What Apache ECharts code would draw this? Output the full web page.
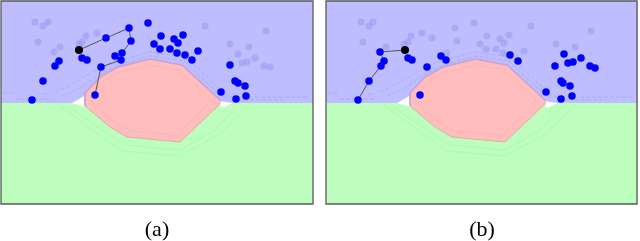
<!DOCTYPE html>
<html><head><meta charset="utf-8">
<script src="https://cdn.jsdelivr.net/npm/echarts@6/dist/echarts.min.js"></script>
<style>html,body{margin:0;padding:0;background:#fff}#c{width:640px;height:241px}</style>
</head><body><div id="c"></div>
<script>
// Panel-local coordinates (x right, y down), shared by both panels
const blueRegion = [[1,1],[313,1],[313,103],[1,103]];
const greenRegion = [[1,103],[313,103],[313,204],[1,204]];
const gapLeft = [[72,103],[86,95],[86,107]];
const gapRight = [[218,101],[233,103],[222,108]];
const redRegion = [[85,106],[85,93],[100,77],[118,67],[150,59],[182,65],[220,100],[220,104],[180,142],[127,137],[110,127]];
const redTopEdge = [[85,106],[85,93],[100,77],[118,67],[150,59],[182,65],[220,100]];
const blueContours = [
  [[55,92],[72,84],[92,72],[112,62],[150,52],[185,57],[205,75],[225,95],[242,100]],
  [[62,96],[80,88],[97,76],[116,66],[150,56],[184,61],[212,88],[228,99]],
  [[3,93],[15,93]], [[15,99],[52,99]], [[43,94],[50,94]],
  [[255,97],[307,97]], [[250,100],[282,100]]
];
const greenContours = [
  [[70,108],[95,125],[125,145],[180,150],[215,130],[235,108]],
  [[60,106],[90,128],[122,151],[180,156],[220,134],[248,107]]
];
const redContours = [
  [[92,102],[92,94],[104,81],[121,72],[151,65],[179,70],[211,100],[178,135],[130,131],[114,122],[92,102]]
];

// Panel (a)
const aFaded = [[35,22],[43,26],[48,22],[38,42],[54,52],[60,47],[79,44],[82,42],[86,36],[97,33],[205,26],[266,31],[230,44],[249,47],[238,54],[242,63],[247,62],[255,58],[264,66],[270,67]];
const aSolid = [[129,28],[148,23],[106,38],[131,41],[154,44],[160,49],[122,53],[115,56],[121,60],[82,58],[87,60],[59,61],[55,66],[101,67],[43,81],[95,95],[32,100],[161,36],[183,35],[174,39],[178,43],[170,49],[177,53],[185,55],[198,51],[192,60],[230,65],[235,81],[238,83],[245,86],[221,92],[246,96],[236,99]];
const aBlack = [[79,50]];
const aPath = [[79,50],[106,38],[129,28],[131,41],[122,53],[121,60],[101,67],[95,95]];

// Panel (b)
const bFaded = [[36,22],[44,26],[48,22],[38,42],[61,47],[79,44],[83,42],[86,36],[97,33],[107,38],[130,28],[132,41],[149,23],[122,53],[206,26],[266,31],[162,36],[184,35],[175,39],[179,43],[155,44],[161,49],[171,49],[178,53],[199,51],[231,44],[250,47]];
const bSolid = [[55,52],[59,61],[56,66],[44,81],[33,100],[83,58],[87,60],[102,67],[116,56],[121,60],[95,95],[185,55],[193,61],[239,54],[230,66],[243,63],[248,62],[256,58],[265,66],[270,68],[236,81],[238,83],[245,86],[221,92],[247,96],[236,99]];
const bBlack = [[80,50]];
const bPath = [[80,50],[55,52],[59,61],[56,66],[44,81],[33,100]];

const panelLabels = ['(a)', '(b)'];

const chart = echarts.init(document.getElementById('c'), null, {renderer:'canvas'});

function polySeries(idx, pts, fill, z, stroke) {
  return {
    type:'custom', xAxisIndex:idx, yAxisIndex:idx, z:z, silent:true,
    data:[[pts[0][0], pts[0][1]]],
    encode:{x:0,y:1},
    clip:false,
    renderItem:function(params, api){
      return {type:'polygon', shape:{points:pts.map(p=>api.coord(p))},
        style:{fill:fill, stroke:stroke||null, lineWidth:stroke?1:0}};
    }
  };
}
function lineSeries(idx, pts, color, width, type, z, opacity) {
  return {type:'line', xAxisIndex:idx, yAxisIndex:idx, data:pts, z:z, silent:true,
    symbol:'none', lineStyle:{color:color, width:width, type:type, opacity:opacity==null?1:opacity}, animation:false};
}
function scatterSeries(idx, pts, color, size, z) {
  return {type:'scatter', xAxisIndex:idx, yAxisIndex:idx, data:pts, z:z, silent:true,
    symbolSize:size, itemStyle:{color:color, opacity:1}, animation:false};
}
function borderSeries(idx) {
  return {
    type:'custom', xAxisIndex:idx, yAxisIndex:idx, z:50, silent:true, clip:false,
    data:[[1,1]], encode:{x:0,y:1},
    renderItem:function(params, api){
      const p0 = api.coord([1,1]), p1 = api.coord([idx===0?313:312,204]);
      return {type:'rect', shape:{x:p0[0], y:p0[1], width:p1[0]-p0[0], height:p1[1]-p0[1]},
        style:{fill:null, stroke:'#5a5a5a', lineWidth:1.3}};
    }
  };
}

const series = [];
[0,1].forEach(function(i){
  series.push(polySeries(i, blueRegion, '#bdbdff', 1));
  series.push(polySeries(i, greenRegion, '#bdfdbd', 1));
  series.push(polySeries(i, gapLeft, '#ffffff', 2));
  series.push(polySeries(i, gapRight, '#ffffff', 2));
  series.push(polySeries(i, redRegion, '#ffbdbd', 3, '#d9b0a0'));
  series.push(lineSeries(i, redTopEdge, '#c9a0d8', 1.5, 'solid', 4));
  blueContours.forEach(c=>series.push(lineSeries(i, c, '#9a9af0', 1, 'dashed', 4, 0.45)));
  greenContours.forEach(c=>series.push(lineSeries(i, c, '#a0eca0', 1, 'dotted', 4, 0.8)));
  redContours.forEach(c=>series.push(lineSeries(i, c, '#f5a5a5', 1, 'dotted', 4, 0.8)));
  series.push(borderSeries(i));
});
series.push(lineSeries(0, aPath, '#555555', 1, 'solid', 10));
series.push(lineSeries(1, bPath, '#555555', 1, 'solid', 10));
series.push(scatterSeries(0, aFaded, 'rgba(140,140,235,0.42)', 7, 11));
series.push(scatterSeries(1, bFaded, 'rgba(140,140,235,0.42)', 7, 11));
series.push(scatterSeries(0, aSolid, '#0000ff', 7.5, 12));
series.push(scatterSeries(1, bSolid, '#0000ff', 7.5, 12));
series.push(scatterSeries(0, aBlack, '#000000', 8, 13));
series.push(scatterSeries(1, bBlack, '#000000', 8, 13));

chart.setOption({
  animation:false,
  grid:[
    {left:1, top:1, width:312, height:203},
    {left:326, top:1, width:311, height:203}
  ],
  xAxis:[
    {type:'value', gridIndex:0, min:1, max:313, show:false},
    {type:'value', gridIndex:1, min:1, max:312, show:false}
  ],
  yAxis:[
    {type:'value', gridIndex:0, min:1, max:204, inverse:true, show:false},
    {type:'value', gridIndex:1, min:1, max:204, inverse:true, show:false}
  ],
  graphic:[
    {type:'text', x:157, y:230, style:{text:panelLabels[0], font:'22px "Liberation Serif"', fill:'#000', textAlign:'center', textVerticalAlign:'middle'}},
    {type:'text', x:482, y:230, style:{text:panelLabels[1], font:'22px "Liberation Serif"', fill:'#000', textAlign:'center', textVerticalAlign:'middle'}}
  ],
  series:series
});
</script></body></html>
